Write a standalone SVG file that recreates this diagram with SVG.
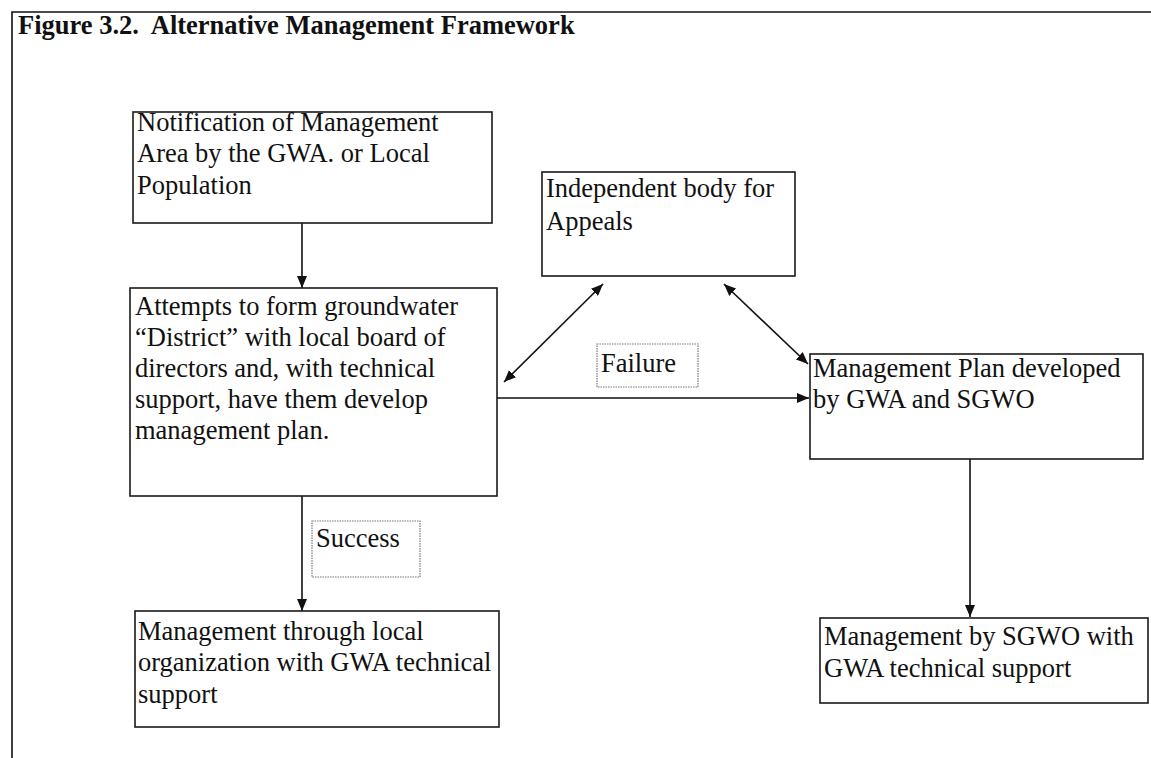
<svg xmlns="http://www.w3.org/2000/svg" width="1151" height="758" viewBox="0 0 1151 758">
<defs>
<style>
.t{font-family:"Liberation Serif","Times New Roman",serif;font-size:26.5px;fill:#111}
.title{font-family:"Liberation Serif","Times New Roman",serif;font-size:26.5px;font-weight:bold;fill:#111}
.box{fill:#fff;stroke:#1a1a1a;stroke-width:1.6}
.lbl{fill:#fff;stroke:#777;stroke-width:1.2;stroke-dasharray:1.5 1}
.c{stroke:#111;stroke-width:1.6;fill:none}
</style>
<marker id="ah" viewBox="0 0 12 10" refX="12" refY="5" markerWidth="12" markerHeight="10" markerUnits="userSpaceOnUse" orient="auto-start-reverse">
<path d="M0,0 L12,5 L0,10 Z" fill="#111"/>
</marker>
</defs>
<rect width="1151" height="758" fill="#fff"/>
<path d="M12,758 V12 H1151" stroke="#111" stroke-width="1.6" fill="none"/>
<text class="title" x="18" y="34" xml:space="preserve">Figure 3.2.  Alternative Management Framework</text>

<g id="connectors">
<line class="c" x1="302" y1="223" x2="302" y2="288" marker-end="url(#ah)"/>
<line class="c" x1="302" y1="496" x2="302" y2="611" marker-end="url(#ah)"/>
<line class="c" x1="497" y1="398" x2="809" y2="398" marker-end="url(#ah)"/>
<line class="c" x1="504" y1="382" x2="603" y2="284" marker-start="url(#ah)" marker-end="url(#ah)"/>
<line class="c" x1="724" y1="284" x2="808" y2="364" marker-start="url(#ah)" marker-end="url(#ah)"/>
<line class="c" x1="970" y1="459" x2="970" y2="617" marker-end="url(#ah)"/>
</g>

<g id="notification">
<rect class="box" x="133" y="112" width="359" height="111"/>
<text class="t" x="137" y="131">Notification of Management</text>
<text class="t" x="137" y="162">Area by the GWA. or Local</text>
<text class="t" x="137" y="194">Population</text>
</g>

<g id="attempts">
<rect class="box" x="130" y="288" width="367" height="208"/>
<text class="t" x="135" y="315">Attempts to form groundwater</text>
<text class="t" x="135" y="346">“District” with local board of</text>
<text class="t" x="135" y="377">directors and, with technical</text>
<text class="t" x="135" y="408">support, have them develop</text>
<text class="t" x="135" y="439">management plan.</text>
</g>

<g id="appeals">
<rect class="box" x="542" y="172" width="253" height="104"/>
<text class="t" x="546" y="197">Independent body for</text>
<text class="t" x="546" y="230">Appeals</text>
</g>

<g id="failure">
<rect class="lbl" x="597" y="344" width="101" height="43"/>
<text class="t" x="601" y="372">Failure</text>
</g>

<g id="plan">
<rect class="box" x="810" y="354" width="333" height="105"/>
<text class="t" x="813" y="377">Management Plan developed</text>
<text class="t" x="813" y="408">by GWA and SGWO</text>
</g>

<g id="success">
<rect class="lbl" x="312" y="521" width="108" height="56"/>
<text class="t" x="316" y="547">Success</text>
</g>

<g id="local">
<rect class="box" x="135" y="611" width="364" height="116"/>
<text class="t" x="138" y="640">Management through local</text>
<text class="t" x="138" y="671">organization with GWA technical</text>
<text class="t" x="138" y="703">support</text>
</g>

<g id="sgwo">
<rect class="box" x="820" y="618" width="328" height="85"/>
<text class="t" x="824" y="645">Management by SGWO with</text>
<text class="t" x="824" y="677">GWA technical support</text>
</g>
</svg>
